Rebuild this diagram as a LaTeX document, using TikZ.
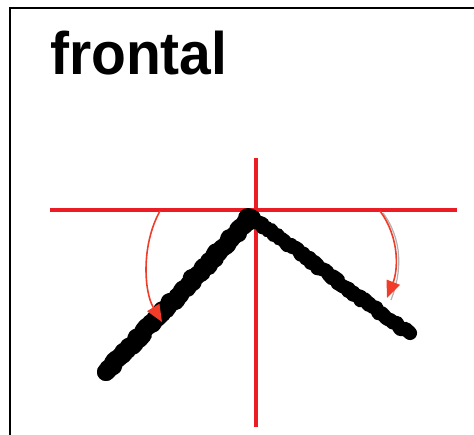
\documentclass[tikz,border=0pt]{standalone}
\usepackage{fontspec}
\setmainfont{Liberation Sans}
\usetikzlibrary{arrows.meta,decorations.pathmorphing}
\definecolor{axisred}{RGB}{236,28,36}
\definecolor{arrred}{RGB}{240,60,40}
\tikzset{
  axis/.style={draw=axisred, line width=3.4pt},
  stroke/.style={draw=black, line cap=round, line join=round,
    decorate, decoration={random steps, segment length=3pt, amplitude=2pt}},
  curvedarrow/.style={draw=arrred, line width=1.6pt, -{Triangle[length=17pt,width=14pt]}},
}
\begin{document}
\begin{tikzpicture}[x=1pt,y=-1pt]
\useasboundingbox (0,0) rectangle (474,435);
\fill[white] (0,0) rectangle (474,435);
% frame
\draw[black, line width=2.2pt] (10,435) -- (10,8) -- (474,8);
% title
\node[anchor=base west, inner sep=0pt, font=\bfseries\fontsize{60}{62}\selectfont, xscale=0.95] (title) at (50,75) {frontal};
% axes
\coordinate (hl) at (50,210);
\coordinate (hr) at (457,210);
\coordinate (vt) at (256,158);
\coordinate (vb) at (256,427);
\draw[axis] (hl) -- (hr);
\draw[axis] (vt) -- (vb);
% black stroke
\coordinate (apex) at (251,218);
\coordinate (lend) at (106,372);
\coordinate (rend) at (410,333);
\draw[stroke, line width=18pt] (lend) -- (apex);
\draw[stroke, line width=14pt] (apex) .. controls (300,250) and (350,294) .. (rend);
\fill (248,218) circle (10pt);
\fill (lend) circle (9pt);
% arrows
\coordinate (la) at (160,211);
\coordinate (lb) at (162,322);
\draw[curvedarrow] (la) .. controls (141,245) and (144,292) .. (lb);
\coordinate (ra) at (380,211);
\coordinate (rb) at (387,298);
\draw[gray!60, line width=1.2pt] (383,213) .. controls (403,240) and (402,272) .. (391,300);
\draw[curvedarrow] (ra) .. controls (400,238) and (398,270) .. (rb);
\end{tikzpicture}
\end{document}
